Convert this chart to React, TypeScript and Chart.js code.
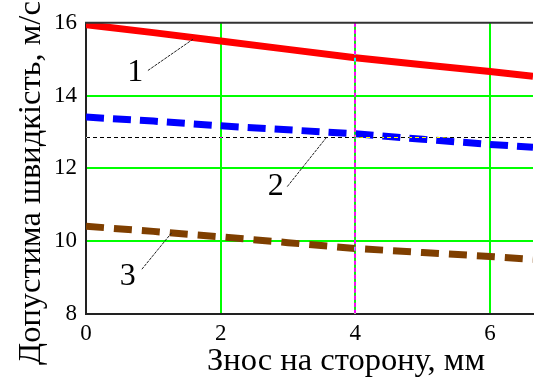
import React, { useEffect, useRef } from 'react';
import { Chart, registerables } from 'chart.js';

Chart.register(...registerables);

// ---- data ----
const wear = [0, 1, 2, 3, 4, 5, 6, 6.64];
const speed1 = [15.95, 15.73, 15.5, 15.27, 15.04, 14.85, 14.66, 14.53];
const speed2 = [13.41, 13.3, 13.17, 13.06, 12.95, 12.8, 12.66, 12.58];
const speed3 = [10.41, 10.27, 10.12, 9.96, 9.8, 9.69, 9.58, 9.5];
const xTicks = [0, 2, 4, 6];
const yTicks = [8, 10, 12, 14, 16];
const markerX = 4;
const markerY = 12.87;
const curveLabels = ['1', '2', '3'];
const labelAt = [[0.73, 14.64], [2.82, 11.5], [0.62, 9.04]];
const leaderFrom = [[0.92, 14.69], [2.99, 11.5], [0.83, 9.23]];
const leaderTo = [[1.59, 15.55], [3.58, 12.87], [1.28, 10.25]];
const xTitle = 'Знос на сторону, мм';
const yTitle = 'Допустима швидкість, м/с';

const SERIF = '"Liberation Serif"';

const pts = (ys: number[]) => wear.map((x, i) => ({ x, y: ys[i] }));

const decorPlugin = {
  id: 'decor',
  beforeDraw(chart: any) {
    const { ctx, width, height } = chart;
    ctx.save();
    ctx.fillStyle = '#ffffff';
    ctx.fillRect(0, 0, width, height);
    ctx.restore();
  },
  afterDatasetsDraw(chart: any) {
    const { ctx, chartArea: a, scales } = chart;
    const xs = scales.x;
    const ys = scales.y;
    ctx.save();
    // crosshair markers drawn in "inverting" mode
    ctx.globalCompositeOperation = 'difference';
    ctx.strokeStyle = '#ffffff';
    ctx.lineWidth = 1;
    ctx.setLineDash([4, 3]);
    const my = Math.round(ys.getPixelForValue(markerY)) + 0.5;
    ctx.beginPath();
    ctx.moveTo(a.left, my);
    ctx.lineTo(a.right, my);
    ctx.stroke();
    ctx.lineWidth = 2;
    const mx = Math.round(xs.getPixelForValue(markerX));
    ctx.beginPath();
    ctx.moveTo(mx, a.top);
    ctx.lineTo(mx, a.bottom);
    ctx.stroke();
    ctx.restore();

    ctx.save();
    ctx.strokeStyle = '#333333';
    ctx.lineWidth = 2;
    ctx.beginPath();
    ctx.moveTo(a.left - 1, a.top);
    ctx.lineTo(a.right, a.top);
    ctx.stroke();

    ctx.strokeStyle = '#222222';
    ctx.lineWidth = 1;
    ctx.setLineDash([3, 1]);
    for (let i = 0; i < leaderFrom.length; i++) {
      ctx.beginPath();
      ctx.moveTo(xs.getPixelForValue(leaderFrom[i][0]), ys.getPixelForValue(leaderFrom[i][1]));
      ctx.lineTo(xs.getPixelForValue(leaderTo[i][0]), ys.getPixelForValue(leaderTo[i][1]));
      ctx.stroke();
    }
    ctx.setLineDash([]);
    ctx.fillStyle = '#000000';
    ctx.font = `32px ${SERIF}`;
    ctx.textAlign = 'center';
    ctx.textBaseline = 'middle';
    for (let i = 0; i < curveLabels.length; i++) {
      ctx.fillText(curveLabels[i], xs.getPixelForValue(labelAt[i][0]), ys.getPixelForValue(labelAt[i][1]));
    }
    ctx.restore();
  },
  afterDraw(chart: any) {
    const { ctx, chartArea: a } = chart;
    ctx.save();
    ctx.fillStyle = '#000000';
    ctx.font = `32.5px ${SERIF}`;
    ctx.textAlign = 'left';
    ctx.textBaseline = 'alphabetic';
    ctx.fillText(xTitle, a.left + 121, a.bottom + 56);
    ctx.translate(a.left - 46, 365);
    ctx.rotate(-Math.PI / 2);
    ctx.fillText(yTitle, 0, 0);
    ctx.restore();
  },
};

export default function App() {
  const ref = useRef<HTMLCanvasElement>(null);
  useEffect(() => {
    document.body.style.margin = '0';
    const gridColor = (hidden: number[]) => (c: any) =>
      c.tick && hidden.includes(c.tick.value) ? 'rgba(0,0,0,0)' : '#00ff00';
    const tickFont = { family: SERIF, size: 23 };
    const chart = new Chart(ref.current as HTMLCanvasElement, {
      type: 'line',
      data: {
        datasets: [
          { data: pts(speed1), borderColor: '#ff0000', borderWidth: 7, pointRadius: 0, clip: 0 },
          { data: pts(speed2), borderColor: '#0000ff', borderWidth: 7, borderDash: [18, 9], pointRadius: 0, clip: 0 },
          { data: pts(speed3), borderColor: '#7f3f00', borderWidth: 7, borderDash: [18, 10], pointRadius: 0, clip: 0 },
        ],
      } as any,
      options: {
        responsive: false,
        animation: false,
        layout: { padding: { left: 0, top: 15, right: 6, bottom: 0 } },
        plugins: { legend: { display: false }, tooltip: { enabled: false } },
        elements: { line: { tension: 0 } },
        scales: {
          x: {
            type: 'linear',
            min: 0,
            max: wear[wear.length - 1],
            afterBuildTicks: (s: any) => {
              s.ticks = xTicks.map((v) => ({ value: v }));
            },
            afterFit: (s: any) => {
              s.height = 65;
            },
            grid: { color: gridColor([0]), lineWidth: 2, drawTicks: false },
            border: { display: true, color: '#222222', width: 2 },
            ticks: { font: tickFont, color: '#000000', padding: 6, maxRotation: 0, autoSkip: false },
          },
          y: {
            type: 'linear',
            min: 8,
            max: 16,
            afterBuildTicks: (s: any) => {
              s.ticks = yTicks.map((v) => ({ value: v }));
            },
            afterFit: (s: any) => {
              s.width = 86;
            },
            grid: { color: gridColor([8, 16]), lineWidth: 2, drawTicks: false },
            border: { display: true, color: '#222222', width: 2 },
            ticks: { font: tickFont, color: '#000000', padding: 9, autoSkip: false },
          },
        },
      } as any,
      plugins: [decorPlugin],
    });
    let alive = true;
    const redraw = () => {
      if (alive) chart.update('none');
    };
    const fs: any = (document as any).fonts;
    if (fs && fs.ready) fs.ready.then(redraw);
    const t1 = setTimeout(redraw, 50);
    return () => {
      alive = false;
      clearTimeout(t1);
      chart.destroy();
    };
  }, []);
  return (
    <div style={{ width: 539, height: 379 }}>
      <canvas ref={ref} width={539} height={379} style={{ width: 539, height: 379, display: 'block' }} />
    </div>
  );
}
